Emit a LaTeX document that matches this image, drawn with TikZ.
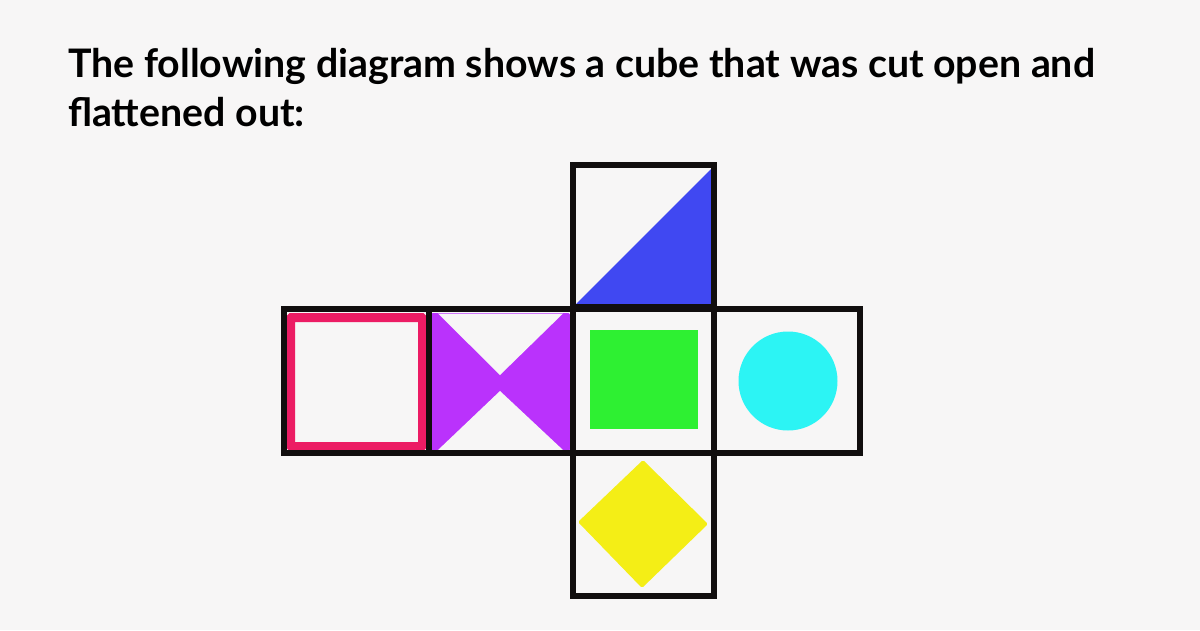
\documentclass[tikz,border=0pt]{standalone}
\usepackage{fontspec}
\setmainfont{Lato}
\definecolor{bg}{RGB}{247,246,246}
\definecolor{frame}{RGB}{17,14,14}
\definecolor{cblue}{RGB}{64,72,242}
\definecolor{cpink}{RGB}{236,28,100}
\definecolor{cpurple}{RGB}{186,50,252}
\definecolor{cgreen}{RGB}{46,240,50}
\definecolor{ccyan}{RGB}{44,244,244}
\definecolor{cyellow}{RGB}{244,238,22}
\tikzset{
  title/.style={anchor=base west, inner sep=0pt, font=\fontsize{39.3}{48}\selectfont\bfseries, text=black},
  facebox/.style={draw=frame, line width=5.5pt, line join=miter},
}
\begin{document}
\begin{tikzpicture}[x=1pt,y=-1pt]
\fill[bg] (0,0) rectangle (1200,630);
\useasboundingbox (0,0) rectangle (1200,630);
% title
\node[title] (t1) at (68,77) {The following diagram shows a cube that was cut open and};
\node[title] (t2) at (68,126) {flattened out:};
% top face: blue triangle
\draw[cblue, line width=1.5pt] (575,167) rectangle (712,305);
\fill[cblue, rounded corners=2pt] (575,305) -- (712,168) -- (712,305) -- cycle;
% pink square outline
\draw[cpink, line width=9pt, rounded corners=1pt] (290.5,317.5) rectangle (422.5,446.5);
% purple bowtie
\fill[cpurple, rounded corners=2pt] (431,313) rectangle (570,451);
\fill[bg] (438,313.5) -- (563,313.5) -- (500,375) -- cycle;
\fill[bg] (438,450) -- (563,450) -- (500,391) -- cycle;
% green square
\fill[cgreen] (590,330) rectangle (698,429);
% cyan circle
\fill[ccyan] (788,381) circle[radius=49.5];
% yellow diamond
\fill[cyellow, rounded corners=1.5pt] (643,460) -- (708,524) -- (642,588) -- (578,522) -- cycle;
% frames
\draw[facebox] (573,165) rectangle (714,307);
\draw[facebox] (284,309) rectangle (860,453);
\draw[facebox] (429,309) -- (429,453);
\draw[facebox] (573,307) -- (573,453);
\draw[facebox] (714,307) -- (714,453);
\draw[facebox] (573,453) rectangle (714,596);
\end{tikzpicture}
\end{document}
